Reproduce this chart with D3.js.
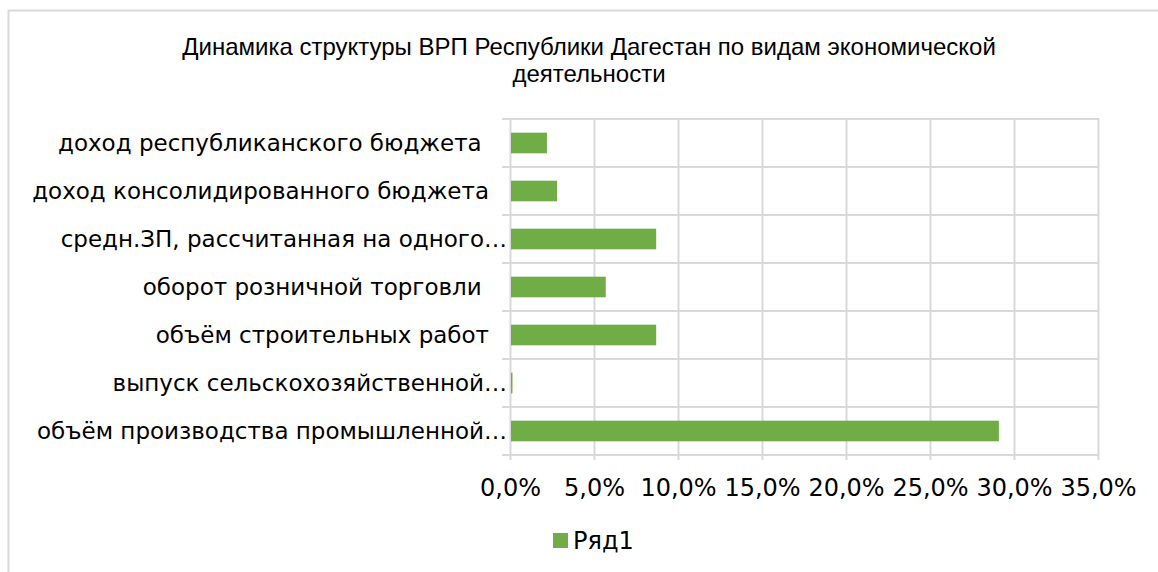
<!DOCTYPE html>
<html>
<head>
<meta charset="utf-8">
<script src="https://cdn.jsdelivr.net/npm/d3@7"></script>
<style>
  body { margin: 0; background: #fff; }
  text { white-space: pre; }
</style>
</head>
<body>
<div id="chart"></div>
<script>
"use strict";

// data (top to bottom)
const categories = [
  "доход республиканского бюджета ",
  "доход консолидированного бюджета",
  "средн.ЗП, рассчитанная на одного…",
  "оборот розничной торговли ",
  "объём строительных работ",
  "выпуск сельскохозяйственной…",
  "объём производства промышленной…"
];
const values = [0.022, 0.028, 0.087, 0.057, 0.087, 0.001, 0.291];
const xTicks = [0, 0.05, 0.10, 0.15, 0.20, 0.25, 0.30, 0.35];
const titleLines = ["Динамика структуры ВРП Республики Дагестан по видам экономической", "деятельности"];
const seriesName = "Ряд1";

const W = 1158, H = 572;
const plot = {left: 510, right: 1098, top: 119, bottom: 455};
const green = "#70ad47", grid = "#d9d9d9";

const svg = d3.select("#chart")
  .append("svg")
  .attr("width", W)
  .attr("height", H);

// chart area border
svg.append("rect")
  .attr("x", 8.5).attr("y", 10.5)
  .attr("width", W + 20).attr("height", H + 20)
  .attr("fill", "#fff")
  .attr("stroke", grid)
  .attr("stroke-width", 2);

// title
svg.append("g").selectAll("text")
  .data(titleLines)
  .join("text")
  .attr("x", 589)
  .attr("y", (d, i) => 55 + i * 27)
  .attr("text-anchor", "middle")
  .attr("font-family", "Liberation Sans, Arial, sans-serif")
  .attr("font-size", 24)
  .attr("fill", "#000")
  .text(d => d);

const x = d3.scaleLinear()
  .domain([0, 0.35])
  .range([plot.left, plot.right]);

const y = d3.scaleBand()
  .domain(categories)
  .range([plot.top, plot.bottom])
  .paddingInner(0.57)
  .paddingOuter(0.285);

// vertical gridlines + tick labels
const xAxis = svg.append("g")
  .attr("transform", `translate(0,${plot.bottom})`)
  .call(d3.axisBottom(x)
    .tickValues(xTicks)
    .tickSize(-(plot.bottom - plot.top))
    .tickPadding(24)
    .tickFormat(d => d3.format(".1f")(d * 100).replace(".", ",") + "%"));
xAxis.select(".domain").remove();
xAxis.selectAll("line").attr("stroke", grid).attr("stroke-width", 2).attr("y2", -(plot.bottom - plot.top) - 1).attr("y1", 5);
xAxis.selectAll("text")
  .attr("font-family", "DejaVu Sans, Verdana, sans-serif")
  .attr("font-size", 24)
  .attr("fill", "#000");

// horizontal gridlines at band borders
const step = y.step();
const borders = d3.range(categories.length + 1).map(i => plot.top + i * step);
svg.append("g").selectAll("line")
  .data(borders)
  .join("line")
  .attr("x1", plot.left - 8)
  .attr("x2", plot.right + 1)
  .attr("y1", d => d)
  .attr("y2", d => d)
  .attr("stroke", grid)
  .attr("stroke-width", 2);

// bars
svg.append("g").selectAll("rect")
  .data(values)
  .join("rect")
  .attr("x", x(0) + 1)
  .attr("y", (d, i) => y(categories[i]))
  .attr("width", d => Math.max(x(d) - x(0) - 1, 1.5))
  .attr("height", y.bandwidth())
  .attr("fill", green);

// category labels
svg.append("g").selectAll("text")
  .data(categories)
  .join("text")
  .attr("x", d => d.endsWith("…") ? 507 : 489)
  .attr("y", d => y(d) + y.bandwidth() / 2)
  .attr("dy", "0.36em")
  .attr("text-anchor", "end")
  .attr("font-family", "DejaVu Sans, Verdana, sans-serif")
  .attr("font-size", 23)
  .attr("fill", "#000")
  .text(d => d);

// legend
const legend = svg.append("g").attr("transform", "translate(553,533)");
legend.append("rect")
  .attr("width", 15).attr("height", 15)
  .attr("fill", green);
legend.append("text")
  .attr("x", 20).attr("y", 16)
  .attr("font-family", "DejaVu Sans, Verdana, sans-serif")
  .attr("font-size", 24)
  .attr("fill", "#000")
  .text(seriesName);
</script>
</body>
</html>
